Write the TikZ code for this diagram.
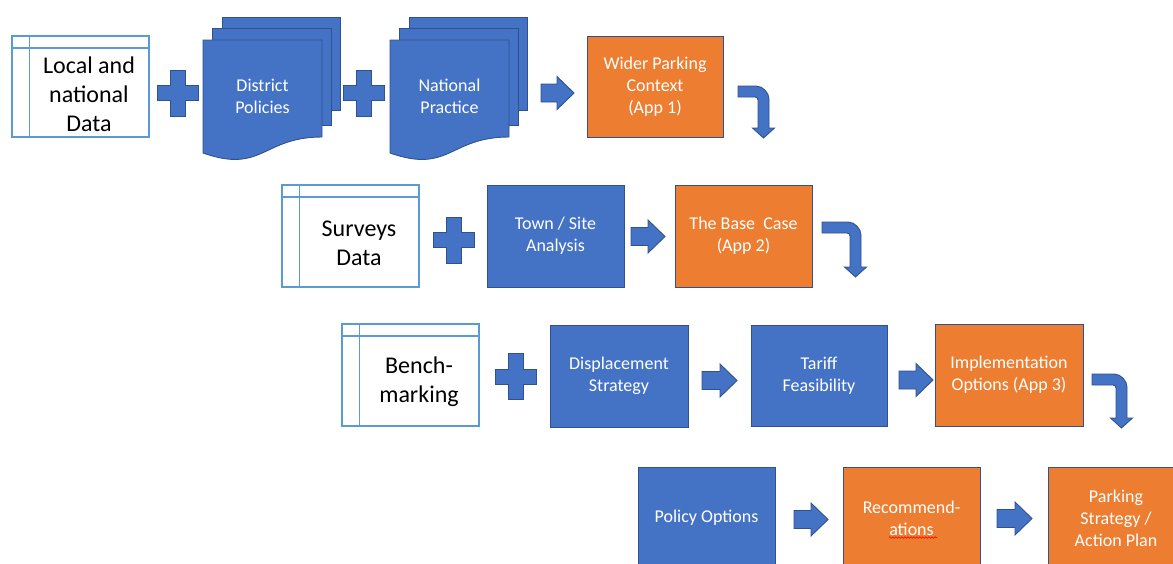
\documentclass[tikz,border=0pt]{standalone}
\usepackage{fontspec}
\setmainfont{Carlito}
\usetikzlibrary{decorations.pathmorphing}

\definecolor{ofblue}{RGB}{68,114,196}
\definecolor{ofedge}{RGB}{47,82,143}
\definecolor{oforange}{RGB}{237,125,49}
\definecolor{storeline}{RGB}{91,155,213}

\tikzset{
  procbox/.style={draw=ofedge, line width=0.9pt, fill=ofblue, text=white,
    align=center, font=\fontsize{18}{22}\selectfont,
    minimum width=137pt, minimum height=102pt, inner sep=0pt, outer sep=0pt},
  appbox/.style={procbox, fill=oforange},
  blockshape/.style={draw=ofedge, line width=0.9pt, fill=ofblue, line join=miter},
  storeframe/.style={draw=storeline, line width=1.5pt},
  storetext/.style={align=center, font=\fontsize{24}{29}\selectfont,
    text=black, inner sep=0pt},
  doctext/.style={align=center, text=white, font=\fontsize{18}{22}\selectfont,
    inner sep=0pt},
  spellmark/.style={draw=red, line width=0.6pt,
    decorate, decoration={snake, segment length=3pt, amplitude=0.8pt}},
}

% block arrow pointing right: left x, right x, centre y
\newcommand\rightblock[3]{%
  \draw[blockshape] (#1,{#3-9}) -- ({#2-17},{#3-9}) -- ({#2-17},{#3-16.5})
    -- (#2,#3) -- ({#2-17},{#3+16.5}) -- ({#2-17},{#3+9}) -- (#1,{#3+9}) -- cycle;}

% plus sign: centre x, centre y
\newcommand\plusblock[2]{%
  \draw[blockshape] ({#1-7.5},{#2-23}) -- ({#1+7.5},{#2-23}) -- ({#1+7.5},{#2-7.5})
    -- ({#1+20.5},{#2-7.5}) -- ({#1+20.5},{#2+7.5}) -- ({#1+7.5},{#2+7.5})
    -- ({#1+7.5},{#2+23}) -- ({#1-7.5},{#2+23}) -- ({#1-7.5},{#2+7.5})
    -- ({#1-20.5},{#2+7.5}) -- ({#1-20.5},{#2-7.5}) -- ({#1-7.5},{#2-7.5}) -- cycle;}

% bent arrow, right then down: start x, top y, outer right x, tip y
\newcommand\bentblock[4]{%
  \draw[blockshape] (#1,#2) -- ({#3-13},#2)
    .. controls ({#3-5.8},#2) and (#3,{#2+7.2}) .. (#3,{#2+13})
    -- (#3,{#4-10}) -- ({#3+5.5},{#4-10}) -- ({#3-5.5},#4) -- ({#3-16.5},{#4-10})
    -- ({#3-11},{#4-10}) -- ({#3-11},{#2+14})
    .. controls ({#3-11},{#2+12.3}) and ({#3-12.3},{#2+11}) .. ({#3-14},{#2+11})
    -- (#1,{#2+11}) -- cycle;}

% internal storage frame: left, top, right, bottom
\newcommand\storeframe[4]{%
  \draw[storeframe] (#1,#2) rectangle (#3,#4);
  \draw[storeframe] ({#1+17.5},#2) -- ({#1+17.5},#4);
  \draw[storeframe] (#1,{#2+12}) -- (#3,{#2+12});}

% stack of documents: node name, front page left x, label
\newcommand\docstack[3]{%
  \draw[blockshape] ({#2+19},17) rectangle ({#2+137},110);
  \draw[blockshape] ({#2+9.5},28) rectangle ({#2+128.5},125);
  \draw[blockshape] (#2,40) -- ({#2+119},40) -- ({#2+119},137)
    .. controls ({#2+59.5},137) and ({#2+59.5},174) .. (#2,153) -- cycle;
  \node[doctext] (#1) at ({#2+59.5},96) {#3};}

\begin{document}
\begin{tikzpicture}[x=1pt, y=-1pt]
\useasboundingbox (0,0) rectangle (1173,563);

% ---- row 1 ----
\storeframe{12}{36}{149}{137}
\node[storetext] (localdata) at (89,94) {Local and\\national\\Data};
\plusblock{177.5}{93}
\docstack{district}{203}{District\\Policies}
\plusblock{364}{93}
\docstack{national}{390}{National\\Practice}
\rightblock{541}{574}{93}
\node[appbox, minimum width=136pt, minimum height=101pt] (wider) at (655,86.5)
  {Wider Parking\\Context\\(App 1)};
\bentblock{738}{86}{769}{138}

% ---- row 2 ----
\storeframe{282}{185}{419}{287}
\node[storetext] (surveys) at (359,243) {Surveys\\Data};
\plusblock{453.5}{240}
\node[procbox] (townsite) at (555.5,236) {Town / Site\\Analysis};
\rightblock{631}{665}{236.5}
\node[appbox] (basecase) at (743.5,236) {The Base\ \ Case\\(App 2)};
\bentblock{822}{222}{861}{277}

% ---- row 3 ----
\storeframe{342}{324}{479}{426}
\node[storetext] (bench) at (419,382) {Bench-\\marking};
\plusblock{515.5}{376.5}
\node[procbox, minimum width=138pt] (displace) at (619,376) {Displacement\\Strategy};
\rightblock{702}{737}{380.5}
\node[procbox, minimum width=136pt, minimum height=101pt] (tariff) at (819,375.5)
  {Tariff\\Feasibility};
\rightblock{899}{933}{380}
\node[appbox, minimum width=148pt] (implement) at (1009,375)
  {Implementation\\Options (App 3)};
\bentblock{1092}{374}{1127}{428}

% ---- row 4 ----
\node[procbox] (policy) at (706.5,518) {Policy Options};
\rightblock{794}{828}{519.5}
\node[appbox] (recommend) at (911.5,518) {Recommend-\\ations};
\draw[spellmark] (889,537.5) -- (937,537.5);
\rightblock{997}{1032}{518.5}
\node[appbox, minimum width=136pt] (strategy) at (1116,518)
  {Parking\\Strategy /\\Action Plan};
\end{tikzpicture}
\end{document}
